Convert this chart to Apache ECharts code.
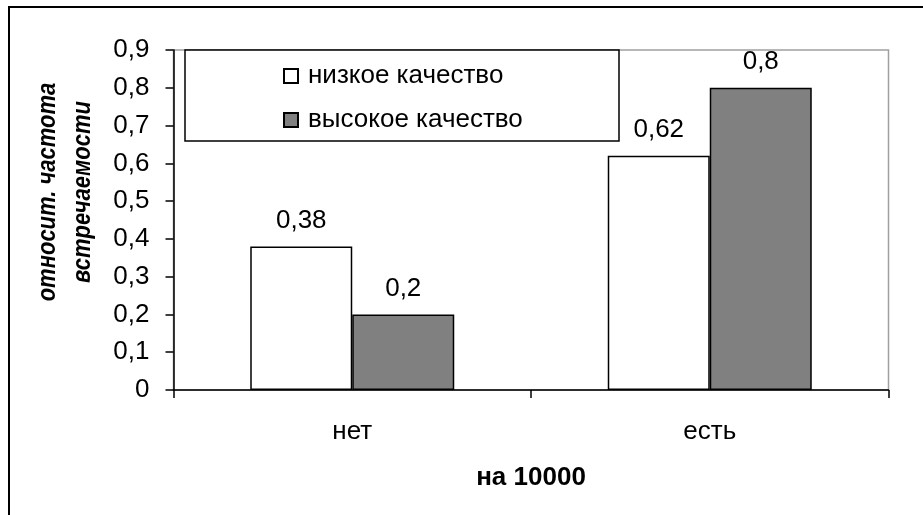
<!DOCTYPE html>
<html>
<head>
<meta charset="utf-8">
<script src="https://cdn.jsdelivr.net/npm/echarts@6/dist/echarts.min.js"></script>
<style>
  html, body { margin: 0; padding: 0; background: #fff; }
  #chart { width: 923px; height: 515px; }
</style>
</head>
<body>
<div id="chart"></div>
<script>
// Relative frequency by presence of the factor (per 10000)
const categories = ['нет', 'есть'];
const seriesNames = ['низкое качество', 'высокое качество'];
const lowQuality = [0.38, 0.62];
const highQuality = [0.2, 0.8];
const yTickLabels = ['0', '0,1', '0,2', '0,3', '0,4', '0,5', '0,6', '0,7', '0,8', '0,9'];
const xTitle = 'на 10000';
const yTitle = 'относит. частота\nвстречаемости';

const FONT = '"Liberation Sans", Arial, sans-serif';
const fmt = v => String(v).replace('.', ',');

const chart = echarts.init(document.getElementById('chart'), null, { renderer: 'canvas' });

chart.setOption({
  animation: false,
  backgroundColor: '#fff',
  textStyle: { fontFamily: FONT, color: '#000' },
  grid: {
    left: 173.5, right: 34.5, top: 50, bottom: 125,
    show: true, borderColor: '#a0a0a0', borderWidth: 1.5, backgroundColor: 'transparent'
  },
  legend: {
    orient: 'vertical',
    left: 283, top: 61,
    padding: 0,
    itemGap: 14,
    itemWidth: 14, itemHeight: 14,
    icon: 'rect',
    selectedMode: false,
    textStyle: { fontSize: 26, fontFamily: FONT, color: '#000', lineHeight: 30, padding: [0, 0, 0, 5] },
    data: seriesNames,
    z: 10
  },
  xAxis: {
    type: 'category',
    data: categories,
    name: xTitle,
    nameLocation: 'middle',
    nameGap: 75,
    nameTextStyle: { fontSize: 26, fontWeight: 'bold', fontFamily: FONT, color: '#000' },
    axisLine: { lineStyle: { color: '#000', width: 1.5 } },
    axisTick: { show: true, length: 8, lineStyle: { color: '#000', width: 1.5 } },
    axisLabel: { fontSize: 26, fontFamily: FONT, color: '#000', margin: 29 },
    splitLine: { show: false }
  },
  yAxis: {
    type: 'value',
    min: 0, max: 0.9, interval: 0.1,
    axisLine: { show: true, lineStyle: { color: '#000', width: 1.5 } },
    axisTick: { show: true, length: 8, lineStyle: { color: '#000', width: 1.5 } },
    axisLabel: {
      fontSize: 26, fontFamily: FONT, color: '#000', margin: 24,
      formatter: v => yTickLabels[Math.round(v * 10)]
    },
    splitLine: { show: false }
  },
  series: [
    {
      name: seriesNames[0],
      type: 'bar',
      data: lowQuality,
      barWidth: 102,
      barGap: '0%',
      itemStyle: { color: '#ffffff', borderColor: '#000', borderWidth: 1.5 },
      label: { show: true, position: 'top', distance: 13, fontSize: 26, fontFamily: FONT, color: '#000', formatter: p => fmt(p.value) }
    },
    {
      name: seriesNames[1],
      type: 'bar',
      data: highQuality,
      barWidth: 102,
      barGap: '0%',
      itemStyle: { color: '#808080', borderColor: '#000', borderWidth: 1.5 },
      label: { show: true, position: 'top', distance: 13, fontSize: 26, fontFamily: FONT, color: '#000', formatter: p => fmt(p.value) }
    }
  ],
  graphic: [
    {
      type: 'rect', z: 0,
      shape: { x: 9, y: 7, width: 940, height: 540 },
      style: { fill: 'none', stroke: '#000', lineWidth: 2 }
    },
    {
      type: 'rect', z: 5,
      shape: { x: 185, y: 50, width: 434, height: 91 },
      style: { fill: '#fff', stroke: '#000', lineWidth: 1.5 }
    },
    {
      type: 'text', z: 5,
      x: 65, y: 192,
      rotation: Math.PI / 2,
      scaleY: 1.2,
      style: {
        text: yTitle,
        fontSize: 22, fontWeight: 'bold', fontStyle: 'italic', fontFamily: FONT,
        fill: '#000', align: 'center', verticalAlign: 'middle', lineHeight: 29
      }
    }
  ]
});
</script>
</body>
</html>
